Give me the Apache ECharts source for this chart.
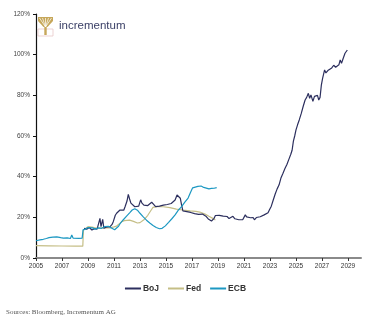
<!DOCTYPE html>
<html><head><meta charset="utf-8">
<script src="https://cdn.jsdelivr.net/npm/echarts@6/dist/echarts.min.js"></script>
<style>html,body{margin:0;padding:0;background:#fff}#c{width:371px;height:324px}</style>
</head><body><div id="c"></div>
<script>
const tickYears = [2005,2007,2009,2011,2013,2015,2017,2019,2021,2023,2025,2027,2029];
const yTicks = [0,20,40,60,80,100,120];
const seriesNames = ['BoJ','Fed','ECB'];
const bojData = [[2008.7,14.6],[2008.9,14.2],[2009.1,15.0],[2009.3,13.8],[2009.5,14.4],[2009.7,14.2],[2009.85,14.8],[2009.92,19.5],[2010.0,15.4],[2010.08,16],[2010.13,19],[2010.22,14.6],[2010.4,15.2],[2010.55,14.8],[2010.7,15.4],[2010.85,16.5],[2010.95,18],[2011.1,21],[2011.2,22],[2011.35,22.8],[2011.46,23.6],[2011.6,24.2],[2011.75,23.5],[2011.85,25.2],[2012.0,28],[2012.1,31.3],[2012.2,29],[2012.3,27],[2012.45,26.5],[2012.6,25.2],[2012.75,25.8],[2012.9,25.5],[2013.05,28.6],[2013.15,27],[2013.3,26],[2013.45,26.6],[2013.6,25.8],[2013.75,26.2],[2013.9,27.4],[2014.05,26.4],[2014.2,25.3],[2014.35,26],[2014.5,25.5],[2014.65,26.2],[2014.8,26],[2014.95,26.6],[2015.1,26.3],[2015.25,27],[2015.4,26.8],[2015.55,27.5],[2015.7,28.5],[2015.85,31],[2016.0,30.5],[2016.1,29.4],[2016.2,26],[2016.3,23.2],[2016.45,23.5],[2016.6,22.8],[2016.75,23.2],[2016.9,22.4],[2017.05,22.6],[2017.2,21.8],[2017.35,22.2],[2017.5,21.5],[2017.65,21.2],[2017.8,21.6],[2017.95,20.8],[2018.1,20.4],[2018.25,19.2],[2018.4,19.6],[2018.5,18.2],[2018.6,17.9],[2018.7,19.5],[2018.8,20.9],[2018.95,20.3],[2019.1,21],[2019.25,20.2],[2019.4,20.6],[2019.55,19.8],[2019.7,20.4],[2019.85,19.4],[2020.0,19.8],[2020.15,20.5],[2020.3,19.3],[2020.45,19.6],[2020.6,18.8],[2020.75,18.3],[2020.9,18.8],[2021.0,19.6],[2021.1,21.2],[2021.2,20.2],[2021.35,20.6],[2021.5,19.8],[2021.6,19.4],[2021.7,19.9],[2021.8,18.8],[2021.95,19.9],[2022.1,19.5],[2022.25,20.3],[2022.4,20.8],[2022.55,21.2],[2022.7,21.6],[2022.85,22.3],[2022.95,23.6],[2023.1,25.5],[2023.25,28.5],[2023.4,31.5],[2023.55,34],[2023.7,36],[2023.85,39.5],[2024.0,41.7],[2024.15,44],[2024.3,46],[2024.45,48.5],[2024.6,51],[2024.7,53],[2024.8,57.5],[2024.9,60],[2025.0,63],[2025.12,65.5],[2025.25,67.9],[2025.4,71],[2025.55,74.5],[2025.7,77.7],[2025.82,79],[2025.95,81],[2026.05,78.5],[2026.15,80.2],[2026.3,77],[2026.42,79.5],[2026.55,78.8],[2026.65,80],[2026.75,77.7],[2026.85,79],[2026.95,85],[2027.05,88.5],[2027.2,92.5],[2027.3,91],[2027.45,92.2],[2027.6,91.4],[2027.75,93.5],[2027.9,94.8],[2028.05,93.8],[2028.2,93],[2028.3,95],[2028.4,97.4],[2028.5,95.7],[2028.62,98],[2028.77,100.7],[2028.85,100],[2028.95,102.3]];
const fedData = [[2005,6.1],[2006,6.0],[2007,5.9],[2008,5.8],[2008.6,5.8],[2008.65,13.8],[2008.8,14.5],[2009.0,15.4],[2009.3,15.2],[2009.7,14.6],[2010.2,14.8],[2010.7,14.8],[2011.0,15.3],[2011.2,15.7],[2011.4,16.8],[2011.6,17.9],[2011.8,18.4],[2012.2,18.6],[2012.5,18.0],[2012.8,17.2],[2013.0,17.4],[2013.3,18.8],[2013.6,21],[2013.85,23.5],[2014.0,24.9],[2014.3,25.3],[2014.8,25.2],[2015.3,24.8],[2015.8,24.0],[2016.3,23.6],[2016.85,23.2],[2017.3,22.9],[2017.6,22.6],[2018.0,21.6],[2018.3,20.5],[2018.6,19.5],[2018.8,18.7]];
const ecbData = [[2005,8.5],[2005.3,8.9],[2005.56,9.2],[2005.8,9.6],[2006.0,10.0],[2006.3,10.3],[2006.6,10.4],[2006.9,10.0],[2007.1,9.8],[2007.4,9.9],[2007.65,9.6],[2007.75,11.3],[2007.85,9.8],[2008.0,9.4],[2008.3,9.7],[2008.55,9.8],[2008.62,13.8],[2008.8,14.2],[2009.0,15.0],[2009.15,15.6],[2009.35,14.8],[2009.55,14.2],[2009.8,14.8],[2010.05,14.6],[2010.3,15.5],[2010.56,15.6],[2010.8,14.8],[2011.05,13.9],[2011.2,14.2],[2011.35,15.6],[2011.5,17.2],[2011.7,18.7],[2011.95,20.5],[2012.2,22.2],[2012.4,23.6],[2012.6,24.2],[2012.8,23.5],[2013.0,22],[2013.25,20.2],[2013.5,18.6],[2013.75,17.2],[2014.0,16.0],[2014.25,15.0],[2014.5,14.4],[2014.7,14.6],[2014.95,15.8],[2015.2,17.5],[2015.45,19.3],[2015.7,21.2],[2015.95,23.5],[2016.2,25.3],[2016.45,27.5],[2016.7,29.5],[2016.9,32.5],[2017.05,34.5],[2017.2,35.3],[2017.45,35.2],[2017.7,35.4],[2017.9,34.7],[2018.1,34.4],[2018.3,34.0],[2018.5,34.2],[2018.7,34.3],[2018.9,34.6]];
const colors = {BoJ:'#2c2f5e', Fed:'#c5be86', ECB:'#1c98c2'};

const chart = echarts.init(document.getElementById('c'), null, {renderer:'canvas'});
const gold = '#c6a75a';
const treeBranches = [];
[-5,-2.5,0,2.5,5].forEach(function(dx){
  treeBranches.push({type:'line', shape:{x1:45.5,y1:27,x2:45.5+dx*1.2,y2:18}, style:{stroke:'#fff',lineWidth:0.7}});
});
chart.setOption({
  animation:false,
  grid:{left:36,right:10,top:14,bottom:66},
  xAxis:{type:'value',min:2005,max:2030,
    axisLine:{lineStyle:{color:'#8a8a8a',width:2}},
    axisTick:{customValues:tickYears,length:3,lineStyle:{color:'#333'}},
    axisLabel:{customValues:tickYears,formatter:function(v){return String(v);},fontSize:6.5,color:'#333',margin:5,fontFamily:'Liberation Sans, Arial'},
    splitLine:{show:false}},
  yAxis:{type:'value',min:0,max:120,interval:20,
    axisLine:{show:true,lineStyle:{color:'#111',width:1.2}},
    axisTick:{show:true,length:3,lineStyle:{color:'#111'}},
    axisLabel:{customValues:yTicks,formatter:'{value}%',fontSize:6.5,color:'#444',margin:6,fontFamily:'Liberation Sans, Arial'},
    splitLine:{show:false}},
  legend:{bottom:26,left:'center',icon:'rect',itemWidth:16,itemHeight:2,itemGap:9,
    data:seriesNames,
    textStyle:{fontSize:8.5,fontWeight:'bold',color:'#333',padding:[0,0,0,-3],fontFamily:'Liberation Sans, Arial'}},
  graphic:[
    {type:'text',left:6,top:309,style:{text:'Sources: Bloomberg, Incrementum AG',fontSize:7,fill:'#555',fontFamily:'Liberation Serif, Times New Roman, serif'}},
    {type:'text',left:59,top:20,style:{text:'incrementum',fontSize:11.5,fill:'#3a3f66',fontFamily:'Liberation Sans, Arial'}},
    {type:'rect',shape:{x:38,y:29,width:15,height:7},style:{fill:'none',stroke:'#e8c8c8',lineWidth:0.8}},
    {type:'polygon',shape:{points:[[38,17],[53,17],[53,21],[47.5,27],[43.5,27],[38,21]]},style:{fill:gold}},
    {type:'rect',shape:{x:44.3,y:25,width:2.4,height:10},style:{fill:gold}},
    {type:'group',children:treeBranches}
  ],
  series:[
    {name:'BoJ',type:'line',data:bojData,symbol:'none',lineStyle:{color:colors.BoJ,width:1.2},itemStyle:{color:colors.BoJ},z:4},
    {name:'Fed',type:'line',data:fedData,symbol:'none',lineStyle:{color:colors.Fed,width:1.2},itemStyle:{color:colors.Fed},z:3},
    {name:'ECB',type:'line',data:ecbData,symbol:'none',lineStyle:{color:colors.ECB,width:1.2},itemStyle:{color:colors.ECB},z:5}
  ]
});
</script></body></html>
